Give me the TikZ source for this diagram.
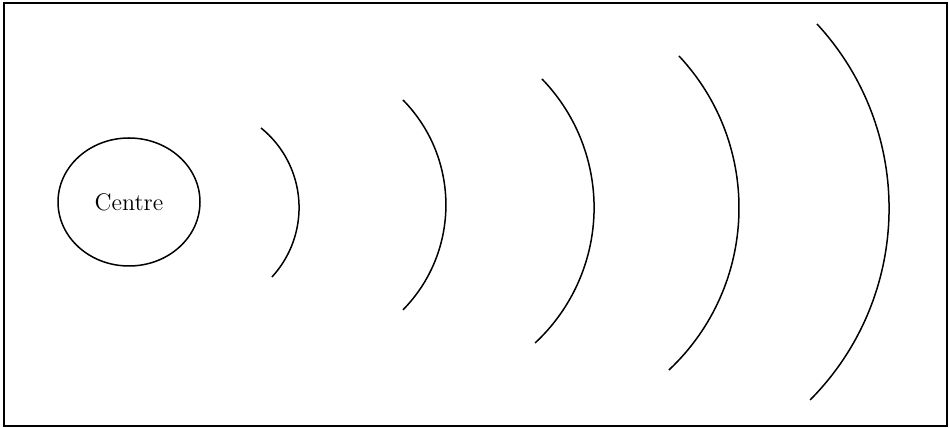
\documentclass[tikz,border=0pt]{standalone}
\usetikzlibrary{shapes.geometric}

\begin{document}
\begin{tikzpicture}[
  x=0.5pt, y=0.5pt,
  frame/.style={draw, line width=1pt},
  centre/.style={
    draw, ellipse, line width=0.75pt,
    minimum width=71pt, minimum height=64pt,
    inner sep=0pt, font=\large
  },
  wave/.style={draw, line width=0.75pt}
]
  \useasboundingbox (0,0) rectangle (949,428);
  \draw[frame] (4,2) rectangle (947,425);

  \node[centre] (ctr) at (129,226) {Centre};

  % waves going out from the centre
  \foreach \tx/\ty/\sa/\ea/\r in {
      261/300/51.1/-42.7/102.3,
      403/328/44.5/-44.5/149.7,
      542/349/44.1/-47.1/184.8,
      679/372/43.1/-46.8/222.4,
      817/404/42.7/-44.8/271.9}
    \draw[wave] (\tx,\ty) arc[start angle=\sa, end angle=\ea, radius=\r];
\end{tikzpicture}
\end{document}
